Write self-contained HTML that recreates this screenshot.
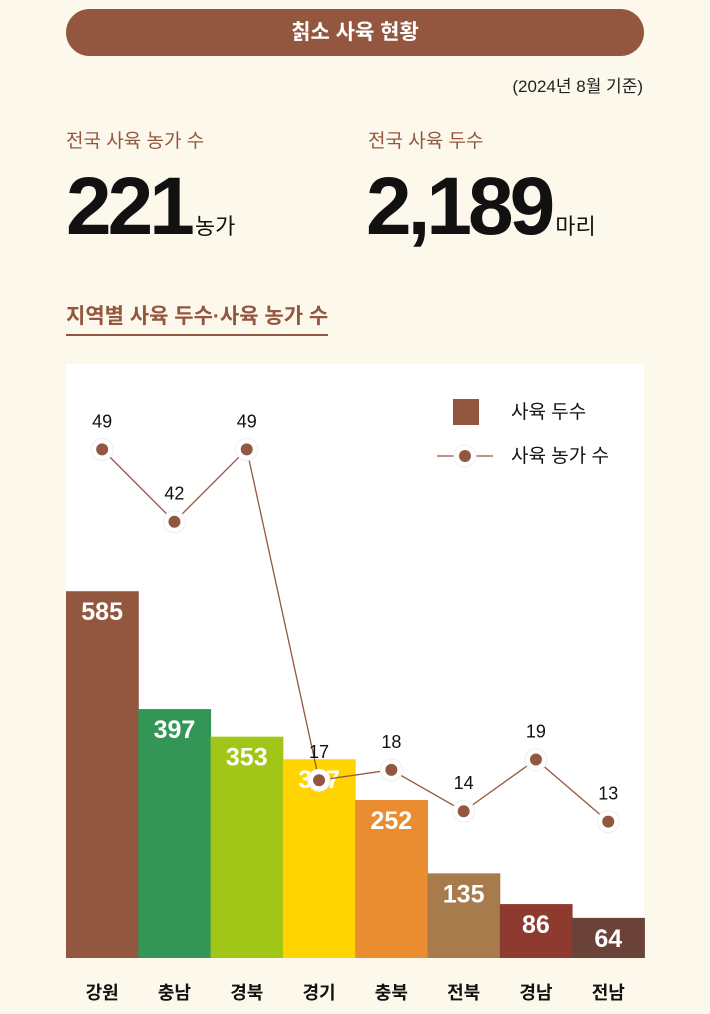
<!DOCTYPE html>
<html><head><meta charset="utf-8">
<style>
body{margin:0;width:710px;height:1014px;background:#fdf8ec;font-family:"Liberation Sans","Noto Sans CJK KR",sans-serif;position:relative;overflow:hidden}
.abs{position:absolute}
</style></head><body>
<div class="abs" style="left:66px;top:9px;width:578px;height:47px;border-radius:24px;background:#93573f;color:#fff;font-weight:bold;font-size:21px;line-height:47px;text-align:center">칡소 사육 현황</div>
<div class="abs" style="right:67px;top:72px;font-size:17px;color:#222">(2024년 8월 기준)</div>
<div class="abs" style="left:66px;top:126px;font-size:19px;color:#93573f">전국 사육 농가 수</div>
<div class="abs" style="left:66px;top:160px;color:#111"><span style="font-size:82px;font-weight:900;letter-spacing:-4px;font-family:'Liberation Sans',sans-serif">221</span><span style="font-size:22px;margin-left:4px">농가</span></div>
<div class="abs" style="left:368px;top:126px;font-size:19px;color:#93573f">전국 사육 두수</div>
<div class="abs" style="left:366px;top:160px;color:#111"><span style="font-size:82px;font-weight:900;letter-spacing:-4px">2,189</span><span style="font-size:22px;margin-left:4px">마리</span></div>
<div class="abs" style="left:66px;top:300px;font-size:21px;font-weight:bold;color:#93573f;border-bottom:2px solid #93573f;padding-bottom:4px">지역별 사육 두수·사육 농가 수</div>
<div class="abs" style="left:66px;top:364px;width:578px;height:594px;background:#fff"></div>
<svg class="abs" style="left:0;top:0" width="710" height="1014" id="chart"></svg>
<script>
const regions=["강원","충남","경북","경기","충북","전북","경남","전남"];
const headCounts=[585,397,353,317,252,135,86,64];
const farmCounts=[49,42,49,17,18,14,19,13];
const colors=["#93573f","#339656","#a2c617","#ffd400","#ea8c30","#a77b4c","#8e3a2f","#6b4238"];
const NS="http://www.w3.org/2000/svg",svg=document.getElementById("chart");
const x0=66,bw=72.3,base=958;
const xb=i=>x0+i*bw, xc=i=>x0+(i+0.5)*bw;
const yBar=v=>base-v*0.627;
const yLine=v=>956-v*10.34;
function mk(t,a,txt){const e=document.createElementNS(NS,t);for(const k in a)e.setAttribute(k,a[k]);if(txt!==undefined)e.textContent=txt;svg.appendChild(e);return e;}
headCounts.forEach((v,i)=>{
 const r=mk("rect",{x:xb(i),y:yBar(v),width:bw+0.5,height:base-yBar(v),fill:colors[i]});
 
 
 const t=mk("text",{x:xc(i),y:yBar(v)+29,"text-anchor":"middle","font-size":25,"font-weight":"bold",fill:"#fff"},v);
 
 
 const l=mk("text",{x:xc(i),y:999,"text-anchor":"middle","font-size":18,"font-weight":"bold",fill:"#111"},regions[i]);
 
 
});
const pts=farmCounts.map((v,i)=>xc(i)+","+yLine(v)).join(" ");
const pl=mk("polyline",{points:pts,fill:"none",stroke:"#93573f","stroke-width":1.3});


farmCounts.forEach((v,i)=>{
 const c=mk("circle",{cx:xc(i),cy:yLine(v),r:11,fill:"#fff",stroke:"#eee","stroke-width":1});
 
 
 mk("circle",{cx:xc(i),cy:yLine(v),r:6,fill:"#93573f"});
 const t=mk("text",{x:xc(i),y:yLine(v)-22,"text-anchor":"middle","font-size":18,fill:"#111"},v);
 
 
});
const lg=mk("rect",{x:453,y:399,width:26,height:26,fill:"#93573f"});


mk("text",{x:511,y:418,"font-size":19,fill:"#111"},"사육 두수");
mk("line",{x1:437,y1:456,x2:493,y2:456,stroke:"#93573f","stroke-width":1.3});
mk("circle",{cx:465,cy:456,r:11,fill:"#fff",stroke:"#eee"});
mk("circle",{cx:465,cy:456,r:6,fill:"#93573f"});
mk("text",{x:511,y:462,"font-size":19,fill:"#111"},"사육 농가 수");
</script>
</body></html>
